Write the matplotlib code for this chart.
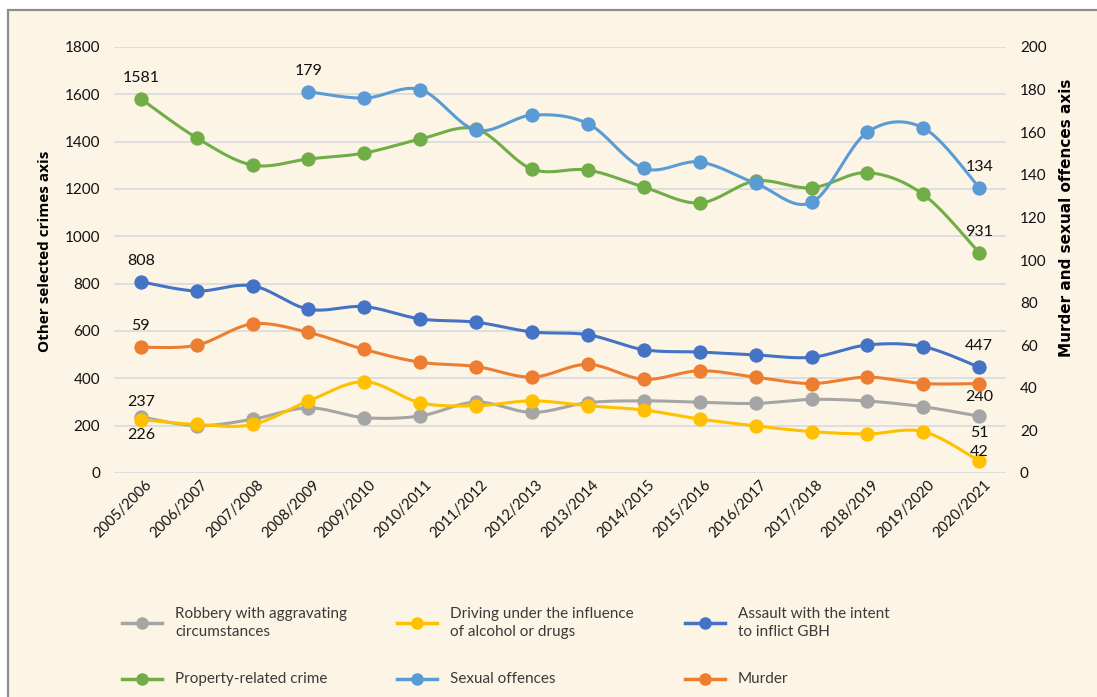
import numpy as np
import matplotlib
matplotlib.use("Agg")
from matplotlib import pyplot as plt
from matplotlib.lines import Line2D
from matplotlib.patches import Rectangle
import matplotlib.transforms as mtransforms

plt.rcParams['font.family'] = ['Lato', 'DejaVu Sans']

years = ["2005/2006", "2006/2007", "2007/2008", "2008/2009", "2009/2010",
         "2010/2011", "2011/2012", "2012/2013", "2013/2014", "2014/2015",
         "2015/2016", "2016/2017", "2017/2018", "2018/2019", "2019/2020",
         "2020/2021"]

# left axis series
robbery = [237, 200, 227, 275, 234, 241, 300, 256, 297, 305, 299, 294, 311, 304, 280, 240]
driving = [226, 205, 205, 304, 386, 297, 284, 305, 284, 266, 228, 199, 175, 165, 175, 51]
assault = [808, 769, 791, 692, 703, 651, 637, 596, 584, 521, 511, 499, 489, 541, 534, 447]
property_crime = [1581, 1416, 1301, 1327, 1352, 1411, 1453, 1284, 1280, 1208, 1141, 1234,
                  1205, 1269, 1177, 931]

# right axis series
sexual = [None, None, None, 179, 176, 180, 161, 168, 164, 143, 146, 136, 127, 160, 162, 134]
murder = [59, 60, 70, 66, 58, 52, 50, 45, 51, 44, 48, 45, 42, 45, 42, 42]

c_gray = "#a5a5a5"
c_yellow = "#ffc000"
c_dblue = "#4472c4"
c_green = "#70ad47"
c_lblue = "#5b9bd5"
c_orange = "#ed7d31"


def smooth(xs, ys, n=24):
    # bezier curve through the points, like a spreadsheet "smoothed line"
    xs = np.asarray(xs, float)
    ys = np.asarray(ys, float)
    P = np.column_stack([xs, ys])
    out = [P[0]]
    t = np.linspace(0, 1, n)[1:, None]
    for i in range(len(P) - 1):
        p0 = P[i - 1] if i > 0 else P[i]
        p1, p2 = P[i], P[i + 1]
        p3 = P[i + 2] if i + 2 < len(P) else P[i + 1]
        b1 = p1 + (p2 - p0) / 6
        b2 = p2 - (p3 - p1) / 6
        seg = ((1 - t) ** 3) * p1 + 3 * ((1 - t) ** 2) * t * b1 + 3 * (1 - t) * t ** 2 * b2 + t ** 3 * p2
        out.extend(seg)
    out = np.array(out)
    return out[:, 0], out[:, 1]


def draw(ax, vals, color):
    x = [i for i, v in enumerate(vals) if v is not None]
    y = [v for v in vals if v is not None]
    sx, sy = smooth(x, y)
    ax.plot(sx, sy, color=color, lw=2.2, solid_capstyle="round")
    ax.plot(x, y, "o", color=color, ms=9.5, mec=color, mew=0.8)


fig = plt.figure(figsize=(10.97, 6.97), dpi=100)
fig.patch.set_facecolor("white")
fig.add_artist(Rectangle((8 / 1097, -0.02), 1.1, 1 - 10 / 697 + 0.02,
                         transform=fig.transFigure, facecolor="#fcf5e5",
                         edgecolor="#8c8c8c", lw=1.6, zorder=-10))

ax = fig.add_axes([114 / 1097, 1 - 473 / 697, (1006 - 114) / 1097, (473 - 47) / 697])
ax.set_facecolor("none")
ax2 = ax.twinx()
ax2.set_facecolor("none")

x = np.arange(len(years))
ax.set_xlim(-0.48, len(years) - 0.52)
ax.set_ylim(0, 1800)
ax.set_yticks(np.arange(0, 1801, 200))
ax2.set_ylim(0, 200)
ax2.set_yticks(np.arange(0, 201, 20))

ax.grid(axis="y", color="#d6d7de", lw=1.1)
ax.set_axisbelow(True)
for a in (ax, ax2):
    for s in a.spines.values():
        s.set_visible(False)
    a.tick_params(length=0, labelsize=11, colors="#111111")
ax.tick_params(axis="y", pad=10)
ax2.tick_params(axis="y", pad=10)

ax.set_xticks(x)
ax.set_xticklabels(years, rotation=45, ha="right", rotation_mode="anchor", fontsize=10.5)
offset = mtransforms.ScaledTranslation(4 / 100, 0, fig.dpi_scale_trans)
for lab in ax.get_xticklabels():
    lab.set_transform(lab.get_transform() + offset)

ax.set_ylabel("Other selected crimes axis", fontsize=11, fontweight="bold",
              family=["Open Sans", "DejaVu Sans"])
ax.yaxis.set_label_coords(-0.069, 0.521)
ax2.set_ylabel("Murder and sexual offences axis", fontsize=11, fontweight="bold",
               rotation=90, family=["DejaVu Sans"])
ax2.yaxis.set_label_coords(1.059, 0.599)

draw(ax, robbery, c_gray)
draw(ax, driving, c_yellow)
draw(ax, assault, c_dblue)
draw(ax, property_crime, c_green)
draw(ax2, sexual, c_lblue)
draw(ax2, murder, c_orange)

lab_kw = dict(textcoords="offset points", ha="center", va="center", fontsize=11.5, color="#111111")
ax.annotate(str(property_crime[0]), (0, property_crime[0]), xytext=(0, 15), **lab_kw)
ax.annotate(str(assault[0]), (0, assault[0]), xytext=(0, 15), **lab_kw)
ax.annotate(str(robbery[0]), (0, robbery[0]), xytext=(0, 11), **lab_kw)
ax.annotate(str(driving[0]), (0, driving[0]), xytext=(0, -11), **lab_kw)
ax2.annotate(str(murder[0]), (0, murder[0]), xytext=(0, 15), **lab_kw)
ax2.annotate(str(sexual[3]), (3, sexual[3]), xytext=(0, 15), **lab_kw)
n = len(years) - 1
ax.annotate(str(property_crime[n]), (n, property_crime[n]), xytext=(0, 15), **lab_kw)
ax2.annotate(str(sexual[n]), (n, sexual[n]), xytext=(0, 15), **lab_kw)
ax.annotate(str(assault[n]), (n, assault[n]), xytext=(0, 15), **lab_kw)
ax.annotate(str(robbery[n]), (n, robbery[n]), xytext=(0, 14), **lab_kw)
ax.annotate(str(driving[n]), (n, driving[n]), xytext=(0, 20), **lab_kw)
ax2.annotate(str(murder[n]), (n, murder[n]), xytext=(0, -49), **lab_kw)

# legend, two rows of three
legend_items = [
    ("Robbery with aggravating\ncircumstances", c_gray, 122, 623),
    ("Driving under the influence\nof alcohol or drugs", c_yellow, 397, 623),
    ("Assault with the intent\nto inflict GBH", c_dblue, 685, 623),
    ("Property-related crime", c_green, 122, 679),
    ("Sexual offences", c_lblue, 397, 679),
    ("Murder", c_orange, 685, 679),
]
W, H = 1097, 697
for label, col, px, py in legend_items:
    fy = 1 - py / H
    fig.add_artist(Line2D([px / W, (px + 40) / W], [fy, fy], transform=fig.transFigure,
                          color=col, lw=2.5))
    fig.add_artist(Line2D([(px + 20) / W], [fy], transform=fig.transFigure, marker="o",
                          color=col, ms=8))
    fig.text((px + 53) / W, fy, label, ha="left", va="center", fontsize=11,
             color="#3a3a3a", linespacing=1.3, family=["Lato", "DejaVu Sans"])

fig.savefig("out.png", dpi=100, facecolor=fig.get_facecolor())
